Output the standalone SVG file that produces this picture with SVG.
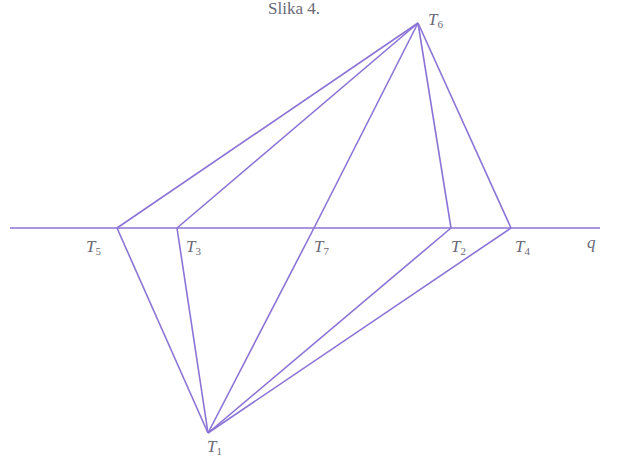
<svg xmlns="http://www.w3.org/2000/svg" width="618" height="459" viewBox="0 0 618 459">
<style>
.c line{stroke:#8b74d6;stroke-width:1.6;fill:none}
text{font-family:"Liberation Serif","DejaVu Serif",serif;fill:#6a6a78}
.l{font-style:italic;font-size:17px}
.s{font-size:11px;font-style:normal}
</style>
<rect width="618" height="459" fill="#ffffff"/>
<text x="268" y="14" font-size="17">Slika 4.</text>
<g class="c" id="connectors">
<line x1="10" y1="228" x2="600" y2="228"/>
<line x1="418" y1="23" x2="117" y2="228"/>
<line x1="418" y1="23" x2="177" y2="228"/>
<line x1="418" y1="23" x2="314" y2="228"/>
<line x1="418" y1="23" x2="451" y2="228"/>
<line x1="418" y1="23" x2="511" y2="228"/>
<line x1="208" y1="433" x2="117" y2="228"/>
<line x1="208" y1="433" x2="177" y2="228"/>
<line x1="208" y1="433" x2="314" y2="228"/>
<line x1="208" y1="433" x2="451" y2="228"/>
<line x1="208" y1="433" x2="511" y2="228"/>
</g>
<g id="T6"><text class="l" x="428" y="25">T<tspan class="s" dy="3">6</tspan></text></g>
<g id="T5"><text class="l" x="86" y="252">T<tspan class="s" dy="3">5</tspan></text></g>
<g id="T3"><text class="l" x="186" y="252">T<tspan class="s" dy="3">3</tspan></text></g>
<g id="T7"><text class="l" x="314" y="252">T<tspan class="s" dy="3">7</tspan></text></g>
<g id="T2"><text class="l" x="451" y="252">T<tspan class="s" dy="3">2</tspan></text></g>
<g id="T4"><text class="l" x="515" y="252">T<tspan class="s" dy="3">4</tspan></text></g>
<g id="q"><text class="l" x="587" y="248">q</text></g>
<g id="T1"><text class="l" x="207" y="452">T<tspan class="s" dy="3">1</tspan></text></g>
</svg>
